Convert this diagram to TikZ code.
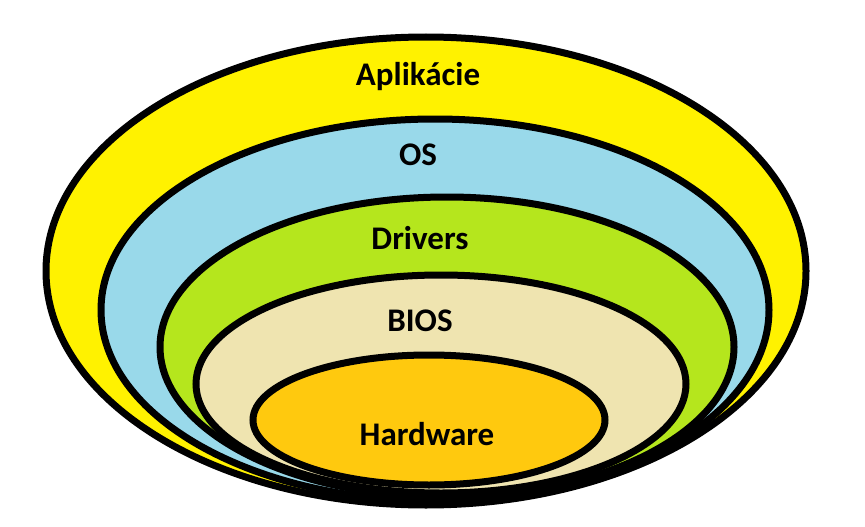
\documentclass[tikz,border=0pt]{standalone}
\usepackage{fontspec}
\setmainfont{Carlito}
\definecolor{cYellow}{HTML}{FFF200}
\definecolor{cBlue}{HTML}{99D9EA}
\definecolor{cGreen}{HTML}{B5E61D}
\definecolor{cBeige}{HTML}{EFE4B0}
\definecolor{cOrange}{HTML}{FFC90E}
\begin{document}
\begin{tikzpicture}[x=1pt,y=-1pt,
  layer/.style={draw=black,line width=7pt},
  lbl/.style={font=\fontsize{33}{36}\selectfont\bfseries,text=black,inner sep=0pt}]
\useasboundingbox (0,0) rectangle (865,527);
\fill[white] (0,0) rectangle (865,527);
\filldraw[layer,fill=cYellow] (426,271) ellipse [x radius=380pt, y radius=234pt];
\filldraw[layer,fill=cBlue]   (435,310) ellipse [x radius=334pt, y radius=191pt];
\filldraw[layer,fill=cGreen]  (447,347) ellipse [x radius=287pt, y radius=150pt];
\filldraw[layer,fill=cBeige]  (441,384) ellipse [x radius=245pt, y radius=109pt];
\filldraw[layer,fill=cOrange] (429,420) ellipse [x radius=176pt, y radius=65pt];
\node[lbl] (app) at (418,77) {Aplikácie};
\node[lbl] (os)  at (418,155) {OS};
\node[lbl] (drv) at (420,238) {Drivers};
\node[lbl] (bios) at (420,321) {BIOS};
\node[lbl] (hw)  at (427,434) {Hardware};
\end{tikzpicture}
\end{document}
